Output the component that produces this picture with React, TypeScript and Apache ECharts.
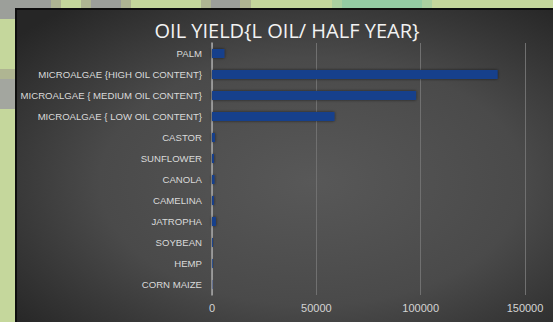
import React, { useEffect, useRef } from "react";
import * as echarts from "echarts";

const categories = [
  "PALM",
  "MICROALGAE {HIGH OIL CONTENT}",
  "MICROALGAE { MEDIUM OIL CONTENT}",
  "MICROALGAE { LOW OIL CONTENT}",
  "CASTOR",
  "SUNFLOWER",
  "CANOLA",
  "CAMELINA",
  "JATROPHA",
  "SOYBEAN",
  "HEMP",
  "CORN MAIZE",
];
const oilYield = [5950, 136900, 97800, 58700, 1413, 952, 1190, 915, 1892, 446, 363, 172];
const titleText = "OIL YIELD{L OIL/ HALF YEAR}";
const xMin = 0;
const xMax = 150000;
const xInterval = 50000;

export default function App() {
  const ref = useRef<HTMLDivElement>(null);
  useEffect(() => {
    document.body.style.margin = "0";
    const chart = echarts.init(ref.current!, undefined, { renderer: "svg" });
    const gray = "#9c9f9a";
    const mid = "#afb592";
    const teal = "#94cba3";
    const tealMid = "#abd0a0";
    const rect = (x: number, y: number, w: number, h: number, fill: string) => ({
      type: "rect",
      z: -100,
      silent: true,
      shape: { x, y, width: w, height: h },
      style: { fill },
    });
    chart.setOption({
      animation: false,
      backgroundColor: "#c5d79c",
      graphic: [
        rect(0, 0, 51, 8, gray),
        rect(51, 0, 10, 8, mid),
        rect(81, 0, 10, 8, mid),
        rect(91, 0, 30, 8, gray),
        rect(121, 0, 10, 8, mid),
        rect(201, 0, 10, 8, mid),
        rect(211, 0, 29, 8, gray),
        rect(240, 0, 11, 8, mid),
        rect(332, 0, 10, 8, tealMid),
        rect(342, 0, 80, 8, teal),
        rect(422, 0, 10, 8, tealMid),
        rect(0, 0, 15, 19, gray),
        rect(0, 69, 15, 10, mid),
        rect(0, 79, 15, 30, "#a3a69f"),
        rect(15, 8, 538, 314, "#0e0e0e"),
        {
          type: "rect",
          z: -99,
          silent: true,
          shape: { x: 17, y: 10, width: 536, height: 312 },
          style: {
            fill: {
              type: "radial",
              x: 0.55,
              y: 0.55,
              r: 0.72,
              colorStops: [
                { offset: 0, color: "#585858" },
                { offset: 0.55, color: "#4a4a4a" },
                { offset: 1, color: "#262626" },
              ],
            },
          },
        },
        {
          type: "text",
          z: 10,
          x: 287,
          y: 30,
          style: {
            text: titleText,
            align: "center",
            verticalAlign: "middle",
            fill: "#f2f2f2",
            font: "20px 'Open Sans'",
          },
        },
      ],
      grid: { left: 212, right: 28, top: 43, bottom: 27, containLabel: false },
      xAxis: {
        type: "value",
        min: xMin,
        max: xMax,
        interval: xInterval,
        axisLine: { show: false },
        axisTick: { show: false },
        axisLabel: {
          color: "#d4d4d4",
          fontSize: 11,
          fontFamily: "Liberation Sans",
          margin: 7,
          formatter: (v: number) => String(v),
        },
        splitLine: { lineStyle: { color: "#707070", width: 1 } },
      },
      yAxis: {
        type: "category",
        inverse: true,
        data: categories,
        axisLine: { show: true, lineStyle: { color: "#a8a8a8", width: 1.5 } },
        axisTick: { show: false },
        axisLabel: {
          color: "#dadada",
          fontSize: 9.6,
          fontFamily: "Liberation Sans",
          margin: 10,
        },
      },
      series: [
        {
          type: "bar",
          data: oilYield,
          barWidth: 9,
          itemStyle: {
            color: "#143f8c",
            shadowBlur: 3,
            shadowColor: "rgba(0,0,0,0.6)",
          },
        },
      ],
    });
    return () => chart.dispose();
  }, []);
  return (
    <div
      ref={ref}
      style={{ position: "absolute", left: 0, top: 0, width: 553, height: 322 }}
    />
  );
}
